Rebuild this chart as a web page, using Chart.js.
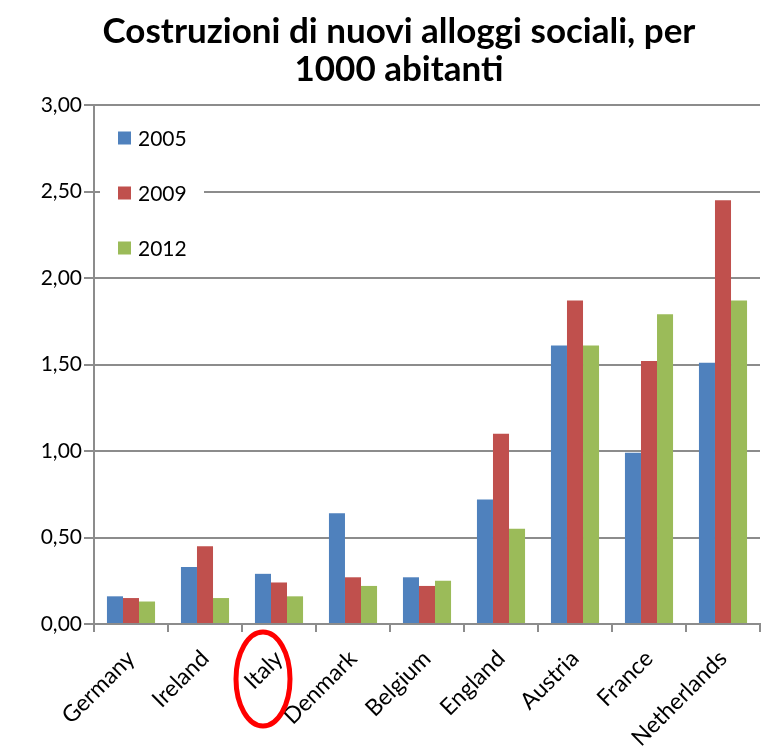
<!DOCTYPE html>
<html>
<head>
<meta charset="utf-8">
<script src="https://cdn.jsdelivr.net/npm/chart.js@4"></script>
<style>
html,body{margin:0;padding:0;background:#fff;}
#wrap{width:763px;height:751px;position:relative;}
</style>
</head>
<body>
<div id="wrap"><canvas id="c" width="763" height="751"></canvas></div>
<script>
const titleLines = ["Costruzioni di nuovi alloggi sociali, per", "1000 abitanti"];
const categories = ["Germany","Ireland","Italy","Denmark","Belgium","England","Austria","France","Netherlands"];
const seriesNames = ["2005","2009","2012"];
const values2005 = [0.16,0.33,0.29,0.64,0.27,0.72,1.61,0.99,1.51];
const values2009 = [0.15,0.45,0.24,0.27,0.22,1.10,1.87,1.52,2.45];
const values2012 = [0.13,0.15,0.16,0.22,0.25,0.55,1.61,1.79,1.87];
const yTicks = [0,0.5,1,1.5,2,2.5,3];
const highlighted = "Italy";

const colors = ["#4f81bd","#c0504d","#9bbb59"];
const FONT = "Lato, 'Open Sans', sans-serif";

const legendPlugin = {
  id: 'insideLegend',
  afterDatasetsDraw(chart) {
    const ctx = chart.ctx;
    const a = chart.chartArea;
    ctx.save();
    ctx.fillStyle = '#fff';
    ctx.fillRect(a.left + 6, a.top + 6, 104, 160);
    ctx.font = "21px " + FONT;
    ctx.textBaseline = 'middle';
    chart.data.datasets.forEach((ds, i) => {
      const y = a.top + 33 + i * 55;
      ctx.fillStyle = ds.backgroundColor;
      ctx.fillRect(a.left + 24, y - 6.5, 13, 13);
      ctx.fillStyle = '#000';
      ctx.fillText(ds.label, a.left + 44, y + 1);
    });
    ctx.restore();
  },
  afterDraw(chart) {
    const ctx = chart.ctx;
    const xs = chart.scales.x;
    const idx = categories.indexOf(highlighted);
    const cx = xs.getPixelForValue(idx) - 16;
    const cy = chart.chartArea.bottom + 55;
    ctx.save();
    ctx.strokeStyle = '#ff0000';
    ctx.lineWidth = 5;
    ctx.beginPath();
    ctx.ellipse(cx, cy, 27, 47, 0, 0, Math.PI * 2);
    ctx.stroke();
    ctx.restore();
  }
};

new Chart(document.getElementById('c'), {
  type: 'bar',
  data: {
    labels: categories,
    datasets: [
      {label: seriesNames[0], data: values2005, backgroundColor: colors[0]},
      {label: seriesNames[1], data: values2009, backgroundColor: colors[1]},
      {label: seriesNames[2], data: values2012, backgroundColor: colors[2]}
    ]
  },
  options: {
    responsive: false,
    animation: false,
    layout: {padding: {left: 38, right: 3, top: 0, bottom: 0}},
    datasets: {bar: {categoryPercentage: 0.65, barPercentage: 1.0}},
    plugins: {
      legend: {display: false},
      tooltip: {enabled: false},
      title: {
        display: true,
        text: titleLines,
        color: '#000',
        font: {family: FONT, size: 35, weight: 'bold', lineHeight: 1.1},
        padding: {top: 12, bottom: 16}
      }
    },
    scales: {
      x: {
        grid: {display: true, drawOnChartArea: false, drawTicks: true, tickLength: 8, color: '#8c8c8c', lineWidth: 2, offset: true},
        border: {display: true, color: '#8c8c8c', width: 2},
        ticks: {color: '#000', font: {family: FONT, size: 23}, maxRotation: 45, minRotation: 45, autoSkip: false, padding: 13},
        afterFit(s) { s.height = 127; }
      },
      y: {
        min: 0, max: 3,
        afterBuildTicks(s) { s.ticks = yTicks.map(v => ({value: v})); },
        grid: {color: '#8c8c8c', lineWidth: 2, tickLength: 10},
        border: {display: true, color: '#8c8c8c', width: 2},
        ticks: {color: '#000', font: {family: FONT, size: 21}, padding: 2,
          callback: v => Number(v).toFixed(2).replace('.', ',')},
        afterFit(s) { s.width = 56; }
      }
    }
  },
  plugins: [legendPlugin]
});
</script>
</body>
</html>
